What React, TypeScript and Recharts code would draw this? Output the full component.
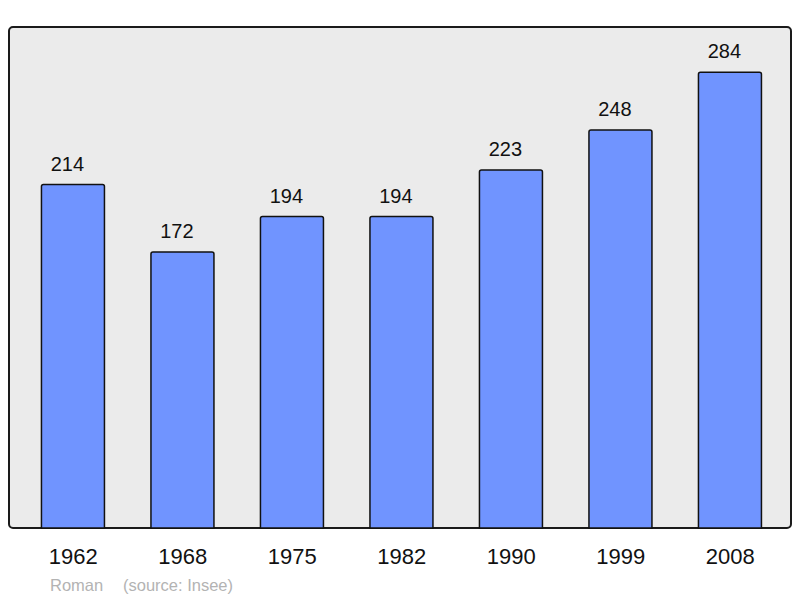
import React from "react";
import { BarChart, Bar, XAxis, YAxis, LabelList } from "recharts";

const years = ["1962", "1968", "1975", "1982", "1990", "1999", "2008"];
const population = [214, 172, 194, 194, 223, 248, 284];
const yMax = 311.5;
const commune = "Roman";
const source = "(source: Insee)";

const data = years.map((y, i) => ({ year: y, value: population[i] }));

const FONT = "'Liberation Sans', Arial, sans-serif";

export default function App() {
  return (
    <div style={{ position: "absolute", left: 0, top: 0, width: 800, height: 598, background: "#fff", fontFamily: FONT }}>
      <div
        style={{
          position: "absolute",
          left: 8,
          top: 26,
          width: 784,
          height: 503,
          boxSizing: "border-box",
          border: "2px solid #1a1a1a",
          borderRadius: 5,
          background: "#ebebeb",
        }}
      />
      <div style={{ position: "absolute", left: 0, top: 0 }}>
        <BarChart
          width={800}
          height={598}
          data={data}
          margin={{ top: 28, right: 15.05, bottom: 40, left: 18.45 }}
        >
          <XAxis
            dataKey="year"
            height={30}
            axisLine={false}
            tickLine={false}
            tickSize={6}
            tickMargin={14}
            tick={{ fill: "#111", fontSize: 22, fontFamily: FONT }}
            interval={0}
          />
          <YAxis hide domain={[0, yMax]} />
          <Bar
            dataKey="value"
            fill="#7094ff"
            stroke="#111"
            strokeWidth={1.5}
            barSize={63}
            radius={[2, 2, 0, 0]}
            isAnimationActive={false}
          >
            <LabelList
              dataKey="value"
              position="top"
              offset={14}
              dx={-5.5}
              fill="#111"
              fontSize={20}
              fontFamily={FONT}
            />
          </Bar>
        </BarChart>
      </div>
      <div style={{ position: "absolute", left: 50, top: 575, fontSize: 16.5, color: "#b3b3b3", whiteSpace: "pre", lineHeight: "20px" }}>
        {commune}
      </div>
      <div style={{ position: "absolute", left: 123, top: 575, fontSize: 16.5, color: "#b3b3b3", whiteSpace: "pre", lineHeight: "20px" }}>
        {source}
      </div>
    </div>
  );
}
